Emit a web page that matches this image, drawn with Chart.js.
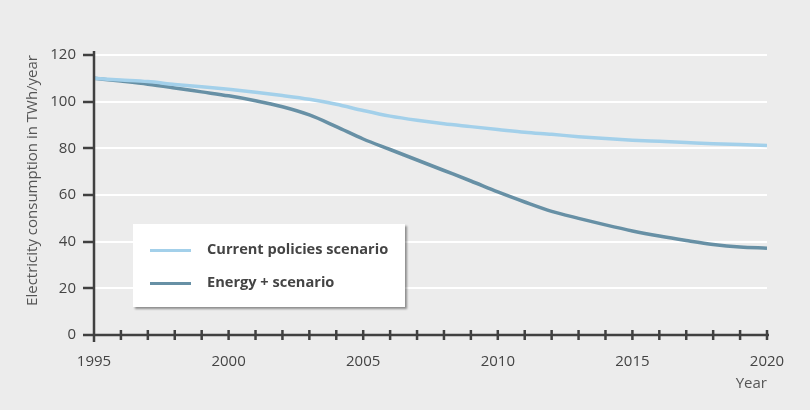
<!DOCTYPE html>
<html>
<head>
<meta charset="utf-8">
<script src="https://cdn.jsdelivr.net/npm/chart.js@4/dist/chart.umd.min.js"></script>
<style>
  html, body { margin: 0; padding: 0; background: #ececec; }
  #wrap { position: relative; width: 810px; height: 410px; }
  #legend {
    position: absolute; left: 133px; top: 224px; width: 272px; height: 83px;
    background: #fff; box-shadow: 2px 2px 2px rgba(0,0,0,0.4);
    font-family: "Open Sans", sans-serif; font-weight: bold; font-size: 14.6px; color: #444;
  }
  #legend .row { position: absolute; left: 17px; height: 20px; line-height: 20px; }
  #legend .swatch { display: inline-block; width: 41px; height: 3px; vertical-align: middle; margin-right: 16px; }
</style>
</head>
<body>
<div id="wrap">
  <canvas id="chart" width="810" height="410"></canvas>
  <div id="legend">
    <div class="row" style="top:14px"><span class="swatch" style="background:#a3d0ea"></span>Current policies scenario</div>
    <div class="row" style="top:47px"><span class="swatch" style="background:#6790a5"></span>Energy + scenario</div>
  </div>
</div>
<script>
const years = [1995, 1996, 1997, 1998, 1999, 2000, 2001, 2002, 2003, 2004, 2005, 2006, 2007,
  2008, 2009, 2010, 2011, 2012, 2013, 2014, 2015, 2016, 2017, 2018, 2019, 2020];
const currentPolicies = [110, 109.3, 108.6, 107.4, 106.4, 105.3, 104, 102.6, 101, 98.9, 96.2, 93.8, 92,
  90.5, 89.3, 88.1, 86.9, 86, 85, 84.2, 83.5, 83, 82.5, 82, 81.6, 81.2];
const energyPlus = [110, 108.8, 107.5, 105.9, 104.2, 102.5, 100.4, 97.8, 94.3, 89.3, 84, 79.5, 75,
  70.5, 66, 61.3, 57, 53, 50, 47.2, 44.6, 42.4, 40.5, 38.8, 37.7, 37.2];
const yTicks = [0, 20, 40, 60, 80, 100, 120];

const axisColor = '#404040';
const font = { family: '"Open Sans", sans-serif', size: 15 };

// axis lines and cross-shaped year ticks
const axesPlugin = {
  id: 'axes',
  afterDraw(chart) {
    const { ctx, chartArea } = chart;
    const x = chart.scales.x;
    ctx.save();
    ctx.strokeStyle = axisColor;
    ctx.lineWidth = 2.5;
    ctx.beginPath();
    ctx.moveTo(chartArea.left, chartArea.bottom);
    ctx.lineTo(chartArea.right + 2, chartArea.bottom);
    ctx.moveTo(chartArea.left, chartArea.top - 4);
    ctx.lineTo(chartArea.left, chartArea.bottom + 7);
    years.slice(1).forEach(y => {
      const px = x.getPixelForValue(y);
      ctx.moveTo(px, chartArea.bottom - 5);
      ctx.lineTo(px, chartArea.bottom + 5);
    });
    ctx.stroke();
    ctx.restore();
  }
};

new Chart(document.getElementById('chart'), {
  type: 'line',
  data: {
    datasets: [
      {
        label: 'Current policies scenario',
        data: years.map((y, i) => ({ x: y, y: currentPolicies[i] })),
        borderColor: '#a3d0ea',
        borderWidth: 3.5,
        pointRadius: 0,
        cubicInterpolationMode: 'monotone',
        fill: false
      },
      {
        label: 'Energy + scenario',
        data: years.map((y, i) => ({ x: y, y: energyPlus[i] })),
        borderColor: '#6790a5',
        borderWidth: 3.5,
        pointRadius: 0,
        cubicInterpolationMode: 'monotone',
        fill: false
      }
    ]
  },
  options: {
    responsive: false,
    animation: false,
    layout: { padding: { top: 55, right: 43, left: 0, bottom: 0 } },
    plugins: { legend: { display: false }, tooltip: { enabled: false } },
    scales: {
      x: {
        type: 'linear',
        min: 1995,
        max: 2020,
        afterBuildTicks: s => { s.ticks = years.filter(y => y % 5 === 0).map(v => ({ value: v })); },
        ticks: { color: '#444', font, padding: 10, maxRotation: 0, autoSkip: false, callback: v => String(v) },
        grid: { display: false },
        border: { display: false },
        title: { display: true, text: 'Year', align: 'end', color: '#555', font, padding: { top: 4, bottom: 17 } },
        afterFit: s => { s.height = 75; }
      },
      y: {
        min: 0,
        max: 120,
        afterBuildTicks: s => { s.ticks = yTicks.map(v => ({ value: v })); },
        ticks: { color: '#444', font, padding: 7 },
        grid: { color: '#ffffff', lineWidth: 2, tickLength: 11, tickColor: axisColor, tickWidth: 2.5 },
        border: { display: false },
        title: { display: true, text: 'Electricity consumption in TWh/year', align: 'end', color: '#555', font, padding: { top: 24, bottom: 0 } },
        afterFit: s => { s.width = 94; }
      }
    }
  },
  plugins: [axesPlugin]
});
</script>
</body>
</html>
